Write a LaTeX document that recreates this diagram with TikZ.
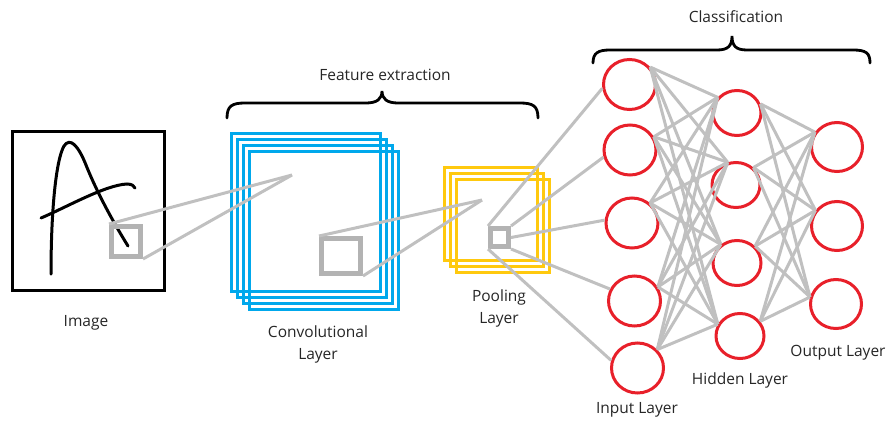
\documentclass[tikz,border=0pt]{standalone}
\usepackage{fontspec}
\setmainfont{Open Sans}
\usetikzlibrary{shapes.geometric}
\definecolor{convblue}{HTML}{00A8EC}
\definecolor{poolyel}{HTML}{FFC90E}
\definecolor{nnred}{HTML}{E8202A}
\definecolor{sqgray}{HTML}{B3B3B3}
\definecolor{lngray}{HTML}{C0C0C0}
\definecolor{txt}{HTML}{262626}
\begin{document}
\begin{tikzpicture}[x=1pt,y=-1pt,
  lbl/.style={font=\fontsize{15.5}{22}\selectfont, text=txt, align=center, inner sep=0pt},
  conn/.style={draw=lngray, line width=3pt},
  brace/.style={draw=black, line width=2.8pt, line cap=round},
  inneuron/.style={ellipse, draw=nnred, line width=3pt, inner sep=0pt, minimum width=52pt, minimum height=50pt},
  hidneuron/.style={ellipse, draw=nnred, line width=3pt, inner sep=0pt, minimum width=48pt, minimum height=45pt},
  outneuron/.style={ellipse, draw=nnred, line width=3pt, inner sep=0pt, minimum width=51pt, minimum height=49pt},
  graysq/.style={draw=sqgray, line width=5pt, inner sep=0pt}]
\useasboundingbox (0,0) rectangle (886,428);

% ---------- Image ----------
\node[draw=black, line width=3pt, inner sep=0pt, minimum width=152pt, minimum height=159pt] (imgbox) at (88.5,211) {};
\draw[black, line width=3pt, line cap=round] (51,274) .. controls (51,210) and (56,160) .. (64,146) .. controls (70,137) and (78,145) .. (86,165) .. controls (98,195) and (115,225) .. (128,246);
\draw[black, line width=3pt, line cap=round] (41,218) .. controls (65,208) and (105,185) .. (127,184) .. controls (132,184) and (134,186) .. (135,188);
\node[graysq, minimum width=29pt, minimum height=30pt] (imgsq) at (126,241.5) {};
\node[lbl] (imglbl) at (86,323) {Image};

% ---------- Convolutional layer ----------
\foreach \i in {0,1,2,3}{
  \draw[convblue, line width=2.8pt] (231.5+6*\i,133.5+6*\i) rectangle (380.5+6*\i,291.5+6*\i);
}
\coordinate (cpt) at (292,175);
\node[graysq, minimum width=39pt, minimum height=35pt] (convsq) at (341,256) {};
\draw[conn] (imgsq.north west) -- (cpt);
\draw[conn] (imgsq.south east) -- (cpt);
\node[lbl] (convlbl) at (318,344) {Convolutional\\Layer};

% ---------- Pooling layer ----------
\foreach \i in {0,1,2}{
  \draw[poolyel, line width=2.8pt] (444.5+6*\i,167.5+6*\i) rectangle (537.5+6*\i,260.5+6*\i);
}
\coordinate (ppt) at (482,200);
\node[graysq, minimum width=18pt, minimum height=18pt] (pool) at (499.5,237.5) {};
\draw[conn] (convsq.north west) -- (ppt);
\draw[conn] (convsq.south east) -- (ppt);
\node[lbl] (poollbl) at (499,308) {Pooling\\Layer};

% ---------- Network ----------
\node[inneuron] (in1) at (629.5,84.5) {};
\node[inneuron] (in2) at (630,150) {};
\node[inneuron] (in3) at (632,223) {};
\node[inneuron] (in4) at (634.5,301) {};
\node[inneuron] (in5) at (637.5,368) {};
\node[hidneuron] (h1) at (737,113) {};
\node[hidneuron] (h2) at (736,185) {};
\node[hidneuron] (h3) at (737,263) {};
\node[hidneuron] (h4) at (740,336) {};
\node[outneuron] (o1) at (837,147) {};
\node[outneuron] (o2) at (837,226) {};
\node[outneuron] (o3) at (836,304) {};

% fan points on the node borders
\coordinate (in1o) at (in1.40);
\coordinate (in2o) at (in2.29);
\coordinate (in3o) at (in3.48);
\coordinate (in4o) at (in4.31);
\coordinate (in5o) at (in5.43);
\coordinate (h1i) at (h1.141);
\coordinate (h2i) at (h2.110);
\coordinate (h3i) at (h3.131);
\coordinate (h4i) at (h4.152);
\coordinate (h1o) at (h1.21);
\coordinate (h2o) at (h2.45);
\coordinate (h3o) at (h3.43);
\coordinate (h4o) at (h4.36);
\coordinate (o1i) at (o1.146);
\coordinate (o2i) at (o2.144);
\coordinate (o3i) at (o3.165);

\draw[conn] (pool.north west) -- (in1.188);
\draw[conn] (pool.north east) -- (in2.195);
\draw[conn] (pool.east) -- (in3.174);
\draw[conn] (pool.south east) -- (in4.154);
\draw[conn] (pool.south west) -- (in5.164);

\foreach \a in {in1o,in2o,in3o,in4o,in5o}{
  \foreach \b in {h1i,h2i,h3i,h4i}{
    \draw[conn] (\a) -- (\b);
  }
}
\foreach \a in {h1o,h2o,h3o,h4o}{
  \foreach \b in {o1i,o2i,o3i}{
    \draw[conn] (\a) -- (\b);
  }
}

\node[lbl] (inlbl) at (637,410) {Input Layer};
\node[lbl] (hidlbl) at (740,380) {Hidden Layer};
\node[lbl] (outlbl) at (838,353) {Output Layer};

% ---------- Braces ----------
\draw[brace] (227,118) .. controls (227,106) and (232,103) .. (245,103) -- (366,103) .. controls (377,103) and (382,99) .. (382,91) .. controls (382,99) and (387,103) .. (398,103) -- (520,103) .. controls (533,103) and (538,106) .. (538,118);
\node[lbl] (featlbl) at (385,75) {Feature extraction};

\draw[brace] (593,63) .. controls (593,53) and (598,50) .. (610,50) -- (717,50) .. controls (728,50) and (732,46) .. (732,36) .. controls (732,46) and (736,50) .. (747,50) -- (853,50) .. controls (866,50) and (870,53) .. (870,63);
\node[lbl] (classlbl) at (736,17) {Classification};
\end{tikzpicture}
\end{document}
